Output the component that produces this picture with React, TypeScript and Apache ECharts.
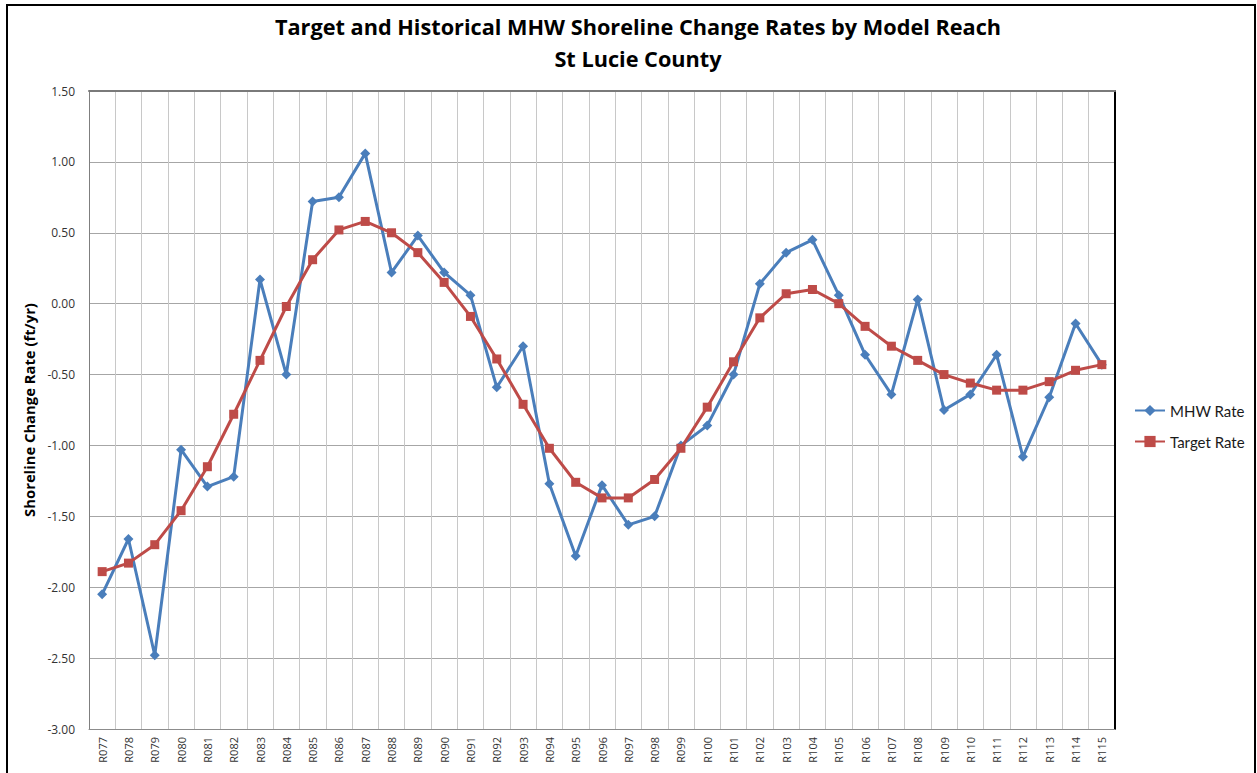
import React, { useEffect, useRef } from "react";
import * as echarts from "echarts";

const categories = [
  "R077", "R078", "R079", "R080", "R081", "R082", "R083", "R084", "R085", "R086",
  "R087", "R088", "R089", "R090", "R091", "R092", "R093", "R094", "R095", "R096",
  "R097", "R098", "R099", "R100", "R101", "R102", "R103", "R104", "R105", "R106",
  "R107", "R108", "R109", "R110", "R111", "R112", "R113", "R114", "R115",
];

const mhwRate = [
  -2.05, -1.66, -2.48, -1.03, -1.29, -1.22, 0.17, -0.5, 0.72, 0.75,
  1.06, 0.22, 0.48, 0.22, 0.06, -0.59, -0.3, -1.27, -1.78, -1.28,
  -1.56, -1.5, -1.0, -0.86, -0.5, 0.14, 0.36, 0.45, 0.06, -0.36,
  -0.64, 0.03, -0.75, -0.64, -0.36, -1.08, -0.66, -0.14, -0.43,
];

const targetRate = [
  -1.89, -1.83, -1.7, -1.46, -1.15, -0.78, -0.4, -0.02, 0.31, 0.52,
  0.58, 0.5, 0.36, 0.15, -0.09, -0.39, -0.71, -1.02, -1.26, -1.37,
  -1.37, -1.24, -1.02, -0.73, -0.41, -0.1, 0.07, 0.1, 0.0, -0.16,
  -0.3, -0.4, -0.5, -0.56, -0.61, -0.61, -0.55, -0.47, -0.43,
];

const yMin = -3;
const yMax = 1.5;
const yStep = 0.5;

const TITLE_LINE_1 = "Target and Historical MHW Shoreline Change Rates by Model Reach";
const TITLE_LINE_2 = "St Lucie County";
const Y_NAME = "Shoreline Change Rate (ft/yr)";

const BLUE = "#4A7EBB";
const RED = "#BE4B48";

export default function App() {
  const ref = useRef<HTMLDivElement>(null);

  useEffect(() => {
    if (!ref.current) return;
    const chart = echarts.init(ref.current, undefined, { renderer: "svg" });
    chart.setOption({
      animation: false,
      backgroundColor: "#ffffff",
      textStyle: { fontFamily: "Open Sans" },
      title: {
        text: TITLE_LINE_1 + "\n" + TITLE_LINE_2,
        left: 633,
        textAlign: "center",
        top: 5,
        textStyle: {
          fontFamily: "Open Sans",
          fontWeight: "bold",
          fontSize: 21.7,
          lineHeight: 32,
          color: "#000000",
        },
      },
      legend: {
        orient: "vertical",
        left: 1134,
        top: 403,
        padding: 0,
        itemWidth: 30,
        itemHeight: 14,
        itemGap: 16,
        textStyle: { fontFamily: "Lato", fontSize: 15, color: "#1a1a1a" },
        data: ["MHW Rate", "Target Rate"],
      },
      graphic: [
        {
          type: "rect",
          shape: { x: 7, y: 5, width: 1248, height: 820 },
          style: { fill: "none", stroke: "#000000", lineWidth: 2 },
          silent: true,
        },
      ],
      grid: { left: 89, right: 142, top: 91, bottom: 44, containLabel: false },
      xAxis: [
        {
          type: "category",
          data: categories,
          boundaryGap: true,
          axisLine: { show: true, onZero: false, lineStyle: { color: "#8c8c8c", width: 1 } },
          axisTick: { show: false },
          axisLabel: {
            rotate: 90,
            interval: 0,
            margin: 8,
            fontFamily: "Open Sans",
            fontSize: 11,
            color: "#333333",
          },
          splitLine: {
            show: true,
            interval: 0,
            lineStyle: { color: "#c8c8c8", width: 1 },
          },
        },
        {
          type: "category",
          data: categories,
          position: "top",
          boundaryGap: true,
          axisLine: { show: true, onZero: false, lineStyle: { color: "#7a7a7a", width: 2 } },
          axisTick: { show: false },
          axisLabel: { show: false },
          splitLine: { show: false },
        },
      ],
      yAxis: [
        {
          type: "value",
          min: yMin,
          max: yMax,
          interval: yStep,
          name: Y_NAME,
          nameLocation: "middle",
          nameGap: 52,
          nameTextStyle: {
            fontFamily: "Open Sans",
            fontWeight: "bold",
            fontSize: 14.8,
            color: "#000000",
          },
          axisLine: { show: true, onZero: false, lineStyle: { color: "#7f7f7f", width: 1 } },
          axisTick: { show: false },
          axisLabel: {
            margin: 14,
            fontFamily: "Open Sans",
            fontSize: 12,
            color: "#333333",
            formatter: (v: number) => v.toFixed(2),
          },
          splitLine: { show: true, lineStyle: { color: "#a6a6a6", width: 1 } },
        },
        {
          type: "value",
          position: "right",
          min: yMin,
          max: yMax,
          interval: yStep,
          axisLine: { show: true, onZero: false, lineStyle: { color: "#000000", width: 2 } },
          axisTick: { show: false },
          axisLabel: { show: false },
          splitLine: { show: false },
        },
      ],
      series: [
        {
          name: "MHW Rate",
          type: "line",
          data: mhwRate,
          xAxisIndex: 0,
          yAxisIndex: 0,
          symbol: "diamond",
          symbolSize: 10,
          itemStyle: { color: BLUE },
          lineStyle: { color: BLUE, width: 3 },
          z: 3,
        },
        {
          name: "Target Rate",
          type: "line",
          data: targetRate,
          xAxisIndex: 0,
          yAxisIndex: 0,
          symbol: "rect",
          symbolSize: 9,
          itemStyle: { color: RED },
          lineStyle: { color: RED, width: 3 },
          z: 4,
        },
      ],
    });
    return () => chart.dispose();
  }, []);

  return (
    <div
      ref={ref}
      style={{ position: "fixed", left: 0, top: 0, width: 1257, height: 773 }}
    />
  );
}
